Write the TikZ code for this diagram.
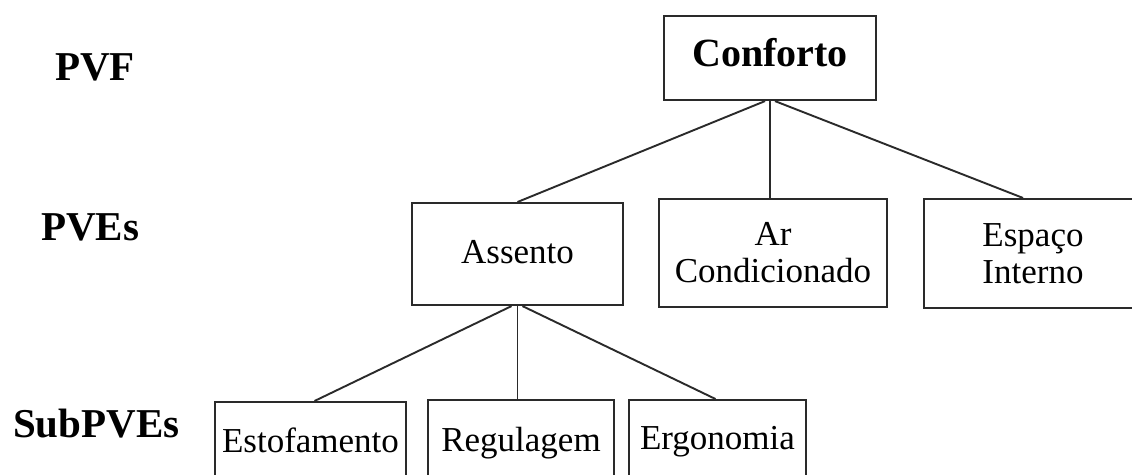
\documentclass[tikz,border=0pt]{standalone}
\usepackage{fontspec}
\setmainfont{Liberation Serif}
\definecolor{linegray}{HTML}{2A2A2A}
\begin{document}
\begin{tikzpicture}[x=1pt,y=-1pt,
  box/.style={draw=linegray, line width=2.1pt, rectangle, inner xsep=0pt, inner ysep=0pt,
    font=\fontsize{35}{37}\selectfont, align=center},
  topbox/.style={box, font=\fontsize{40}{44}\selectfont\bfseries},
  link/.style={draw=linegray, line width=1.9pt},
  level/.style={font=\fontsize{41}{44}\selectfont\bfseries, inner sep=0pt}]
  \useasboundingbox[fill=white] (0,0) rectangle (1132,474);

  % level labels
  \node[level, anchor=base west] (pvf) at (55,80) {PVF};
  \node[level, anchor=base west] (pves) at (41,240) {PVEs};
  \node[level, anchor=base west] (subpves) at (13,437) {SubPVEs};

  % fundamental point of view
  \node[topbox, anchor=north, minimum width=212pt, text height=50pt, text depth=34pt]
    (conf) at (770,15) {Conforto};

  % elementary points of view
  \node[box, anchor=north, minimum width=211pt, text height=60pt, text depth=42pt]
    (assento) at (517.5,202) {Assento};
  \node[box, minimum width=228pt, minimum height=108pt]
    (ar) at (773,253) {Ar\\Condicionado};
  \node[box, minimum width=218pt, minimum height=109pt]
    (esp) at (1033,253.5) {Espaço\\Interno};

  % sub-points of view (boxes run past the lower edge)
  \node[box, anchor=north, minimum width=191pt, text height=50pt, text depth=100pt]
    (estof) at (310.5,401) {Estofamento};
  \node[box, anchor=north, minimum width=186pt, text height=51pt, text depth=100pt]
    (regul) at (521,399) {Regulagem};
  \node[box, anchor=north, minimum width=177pt, text height=49pt, text depth=100pt]
    (ergo) at (717.5,399) {Ergonomia};

  % tree connectors
  \draw[link] ([xshift=-5pt]conf.south) -- (assento.north);
  \draw[link] (conf.south) -- (conf.south |- ar.north);
  \draw[link] ([xshift=5pt]conf.south) -- ([xshift=-10pt]esp.north);
  \draw[link] ([xshift=-6pt]assento.south) -- ([xshift=4pt]estof.north);
  \draw[link] (assento.south) -- (assento.south |- regul.north);
  \draw[link] ([xshift=5pt]assento.south) -- ([xshift=-2pt]ergo.north);
\end{tikzpicture}
\end{document}
